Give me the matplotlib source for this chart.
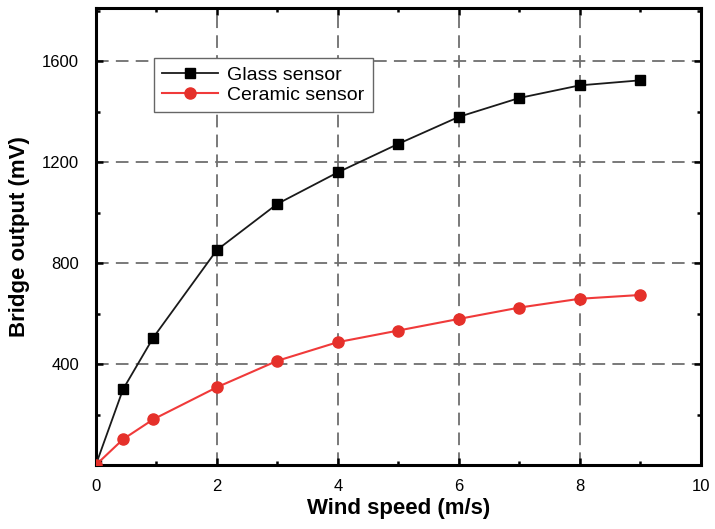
import matplotlib.pyplot as plt
from matplotlib.ticker import MultipleLocator

plt.rcParams['font.family'] = ['Liberation Sans', 'DejaVu Sans']

# wind speed (m/s)
speed = [0, 0.45, 0.95, 2, 3, 4, 5, 6, 7, 8, 9]
# bridge output (mV)
glass = [0, 300, 505, 852, 1035, 1160, 1273, 1380, 1455, 1505, 1525]
ceramic = [0, 102, 181, 308, 413, 487, 533, 579, 624, 659, 674]

fig = plt.figure(figsize=(7.15, 5.29), dpi=100)
ax = fig.add_axes([0.134, 0.121, 0.846, 0.864])

ax.plot(speed, glass, color='#1a1a1a', lw=1.3, marker='s', ms=7.5,
        markerfacecolor='black', markeredgecolor='black', label='Glass sensor', zorder=3)
ax.plot(speed, ceramic, color='#f03a3a', lw=1.5, marker='o', ms=8,
        markerfacecolor='#e5302a', markeredgecolor='#e5302a', label='Ceramic sensor', zorder=3)

ax.set_xlim(0, 10)
ax.set_ylim(0, 1812)
ax.xaxis.set_major_locator(MultipleLocator(2))
ax.xaxis.set_minor_locator(MultipleLocator(1))
ax.yaxis.set_major_locator(MultipleLocator(400))
ax.yaxis.set_minor_locator(MultipleLocator(200))
ax.set_yticks([400, 800, 1200, 1600])

ax.grid(True, which='major', color='#6e6e6e', lw=1.3, linestyle=(0, (7, 4)))
ax.tick_params(which='both', direction='in', top=True, right=True, width=1.8, labelsize=12)
ax.tick_params(which='major', length=5)
ax.tick_params(which='minor', length=3)
ax.tick_params(axis='x', pad=10)
ax.tick_params(axis='y', pad=12)
for s in ax.spines.values():
    s.set_linewidth(2.2)

ax.set_xlabel('Wind speed (m/s)', fontsize=16, fontweight='bold', labelpad=3)
ax.set_ylabel('Bridge output (mV)', fontsize=16, fontweight='bold', labelpad=9)

leg = ax.legend(loc='upper left', bbox_to_anchor=(0.096, 0.89), fontsize=14,
                frameon=True, fancybox=False, edgecolor='#666666', framealpha=1,
                borderaxespad=0, handlelength=2.9, borderpad=0.42, labelspacing=0.12,
                handletextpad=0.45)
leg.get_frame().set_linewidth(1.0)

fig.savefig('out.png', dpi=100)
